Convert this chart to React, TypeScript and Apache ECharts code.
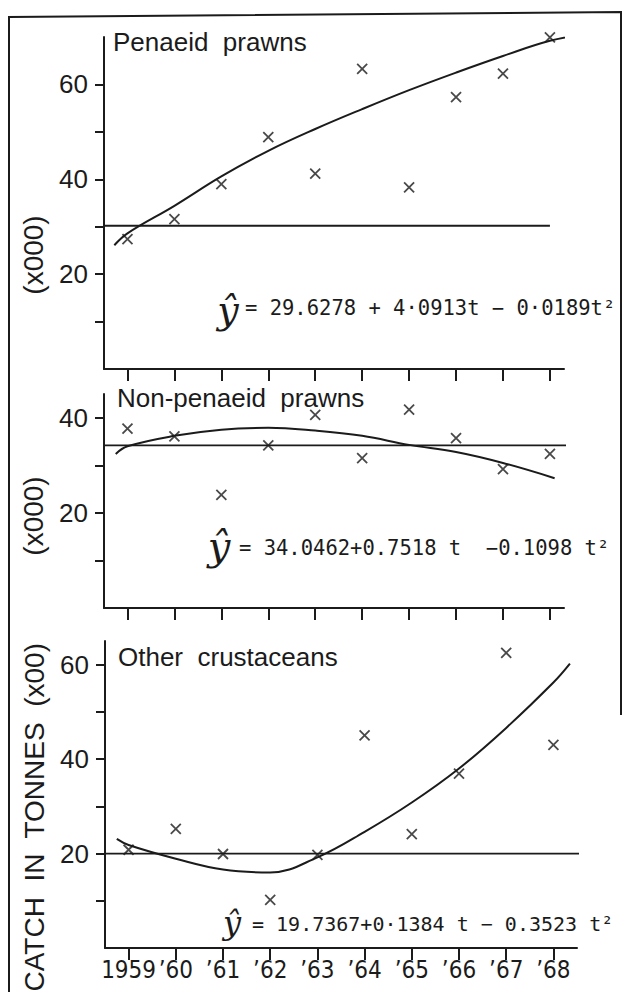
import React, { useEffect, useRef } from "react";
import * as echarts from "echarts";

// ---------- data ----------
const YEARS = [1959, 1960, 1961, 1962, 1963, 1964, 1965, 1966, 1967, 1968];
const YEAR_LABELS = ["1959", "’60", "’61", "’62", "’63", "’64", "’65", "’66", "’67", "’68"];

const PANEL_TITLES = ["Penaeid  prawns", "Non-penaeid  prawns", "Other  crustaceans"];
const AXIS_NAMES = ["(x000)", "(x000)", "CATCH  IN  TONNES  (x00)"];

const PENAEID = [27.4, 31.6, 39.0, 48.9, 41.2, 63.3, 38.3, 57.3, 62.3, 69.9];
const PENAEID_FIT_X = [1958.72, 1959, 1960, 1961, 1962, 1963, 1964, 1965, 1966, 1967, 1968, 1968.7];
const PENAEID_FIT_Y = [26.1, 28.6, 34.4, 40.6, 46.0, 50.6, 54.8, 58.8, 62.5, 66.0, 69.2, 70.5];
const PENAEID_MEAN = 30.2;
const PENAEID_MEAN_SPAN = [1958.5, 1968.0];

const NON_PENAEID = [37.7, 36.1, 23.8, 34.2, 40.6, 31.5, 41.7, 35.7, 29.2, 32.4];
const NON_PENAEID_FIT_X = [1958.75, 1959, 1960, 1961, 1962, 1963, 1964, 1965, 1966, 1967, 1968.1];
const NON_PENAEID_FIT_Y = [32.4, 34.0, 36.2, 37.5, 37.9, 37.3, 36.2, 34.3, 32.8, 30.5, 27.3];
const NON_PENAEID_MEAN = 34.2;
const NON_PENAEID_MEAN_SPAN = [1958.5, 1968.4];

const OTHER = [20.8, 25.2, 19.9, 10.2, 19.7, 45.0, 24.1, 36.9, 62.5, 43.0];
const OTHER_FIT_X = [1958.75, 1959, 1960, 1961, 1962, 1963, 1964, 1965, 1966, 1967, 1968, 1968.35];
const OTHER_FIT_Y = [23.1, 21.8, 18.9, 16.6, 16.0, 19.2, 24.6, 30.8, 38.0, 46.6, 56.2, 60.2];
const OTHER_MEAN = 20.0;
const OTHER_MEAN_SPAN = [1958.5, 1968.6];

const EQUATIONS = [
  "= 29.6278 + 4·0913t − 0·0189t²",
  "= 34.0462+0.7518 t  −0.1098 t²",
  "= 19.7367+0·1384 t − 0.3523 t²",
];

const Y_MAX = [70, 45, 65];
const Y_TICKS = [
  [10, 20, 30, 40, 50, 60],
  [10, 20, 30, 40],
  [10, 20, 30, 40, 50, 60],
];
const Y_LABELS = [
  [20, 40, 60],
  [20, 40],
  [20, 40, 60],
];

// ---------- styling / layout ----------
const INK = "#1b1b1b";
const FONT = '"Liberation Sans", Arial, sans-serif';
const NARROW = '"Liberation Sans Narrow", "DejaVu Sans Condensed", "Liberation Sans", sans-serif';
const MONO = '"DejaVu Sans Mono", "Liberation Mono", monospace';

const GRIDS = [
  { left: 104, top: 37, width: 460, height: 332, xMax: 1968.3 },
  { left: 104, top: 394, width: 460, height: 214, xMax: 1968.3 },
  { left: 105, top: 641, width: 472, height: 307, xMax: 1968.5 },
];

const TITLE_POS = [
  [113, 42],
  [117, 398],
  [118, 657],
];
const EQ_POS = [
  [245, 308, 20.5],
  [239, 548, 20.5],
  [252, 924, 20],
];
const YHAT_POS = [
  [228, 310, 38],
  [219, 546, 40],
  [232, 923, 32],
];

const zip = (xs: number[], ys: number[]) => xs.map((x, i) => [x, ys[i]]);

export default function App() {
  const ref = useRef<HTMLDivElement>(null);

  useEffect(() => {
    if (!ref.current) return;
    const chart = echarts.init(ref.current, null, { renderer: "svg" });

    const scatterData = [PENAEID, NON_PENAEID, OTHER];
    const fitData = [
      zip(PENAEID_FIT_X, PENAEID_FIT_Y),
      zip(NON_PENAEID_FIT_X, NON_PENAEID_FIT_Y),
      zip(OTHER_FIT_X, OTHER_FIT_Y),
    ];
    const means = [
      [PENAEID_MEAN, PENAEID_MEAN_SPAN],
      [NON_PENAEID_MEAN, NON_PENAEID_MEAN_SPAN],
      [OTHER_MEAN, OTHER_MEAN_SPAN],
    ] as [number, number[]][];

    const series: any[] = [];
    GRIDS.forEach((_, i) => {
      series.push({
        type: "line",
        xAxisIndex: i,
        yAxisIndex: i,
        data: fitData[i],
        smooth: 0.4,
        showSymbol: false,
        clip: false,
        lineStyle: { color: INK, width: 2 },
      });
      const [m, span] = means[i];
      series.push({
        type: "line",
        xAxisIndex: i,
        yAxisIndex: i,
        data: [
          [span[0], m],
          [span[1], m],
        ],
        showSymbol: false,
        clip: false,
        lineStyle: { color: INK, width: 1.8 },
      });
      series.push({
        type: "scatter",
        xAxisIndex: i,
        yAxisIndex: i,
        data: zip(YEARS, scatterData[i]),
        symbol: "path://M0,0L10,10M10,0L0,10",
        symbolSize: 10,
        clip: false,
        itemStyle: { color: INK, borderColor: INK, borderWidth: 1.8 },
      });
    });

    const graphics: any[] = [
      {
        type: "polyline",
        shape: {
          points: [
            [9, 992],
            [9, 17],
            [621, 12],
            [621, 715],
          ],
        },
        style: { stroke: INK, lineWidth: 2, fill: "none" },
      },
    ];
    PANEL_TITLES.forEach((t, i) => {
      graphics.push({
        type: "text",
        x: TITLE_POS[i][0],
        y: TITLE_POS[i][1],
        style: {
          text: t,
          fill: INK,
          font: `26px ${FONT}`,
          textAlign: "left",
          textVerticalAlign: "middle",
        },
      });
      graphics.push({
        type: "text",
        x: EQ_POS[i][0],
        y: EQ_POS[i][1],
        style: {
          text: EQUATIONS[i],
          fill: INK,
          font: `${EQ_POS[i][2]}px ${MONO}`,
          textAlign: "left",
          textVerticalAlign: "middle",
        },
      });
      graphics.push({
        type: "text",
        x: YHAT_POS[i][0],
        y: YHAT_POS[i][1],
        style: {
          text: "ŷ",
          fill: INK,
          font: `italic ${YHAT_POS[i][2]}px "DejaVu Serif", serif`,
          textAlign: "center",
          textVerticalAlign: "middle",
        },
      });
    });
    // rotated axis names
    graphics.push({
      type: "text",
      x: 33,
      y: 255,
      rotation: Math.PI / 2,
      style: { text: AXIS_NAMES[0], fill: INK, font: `28px ${FONT}`, textAlign: "center", textVerticalAlign: "middle" },
    });
    graphics.push({
      type: "text",
      x: 33,
      y: 516,
      rotation: Math.PI / 2,
      style: { text: AXIS_NAMES[1], fill: INK, font: `28px ${FONT}`, textAlign: "center", textVerticalAlign: "middle" },
    });
    graphics.push({
      type: "text",
      x: 34,
      y: 643,
      rotation: Math.PI / 2,
      style: { text: AXIS_NAMES[2], fill: INK, font: `28px ${FONT}`, textAlign: "right", textVerticalAlign: "middle" },
    });

    chart.setOption({
      animation: false,
      backgroundColor: "#ffffff",
      grid: GRIDS.map((g) => ({ left: g.left, top: g.top, width: g.width, height: g.height, containLabel: false })),
      xAxis: GRIDS.map((g, i) => ({
        gridIndex: i,
        type: "value",
        min: 1958.5,
        max: g.xMax,
        axisLine: { show: true, onZero: false, lineStyle: { color: INK, width: 2 } },
        axisTick: { show: true, customValues: YEARS, length: 12, lineStyle: { color: INK, width: 2 } },
        axisLabel: {
          show: i === 2,
          customValues: YEARS,
          showMinLabel: true,
          showMaxLabel: true,
          hideOverlap: false,
          margin: 10,
          color: INK,
          fontSize: 24,
          fontFamily: NARROW,
          formatter: (v: number) => YEAR_LABELS[YEARS.indexOf(Math.round(v))] ?? "",
        },
        splitLine: { show: false },
      })),
      yAxis: GRIDS.map((_, i) => ({
        gridIndex: i,
        type: "value",
        min: 0,
        max: Y_MAX[i],
        axisLine: { show: true, onZero: false, lineStyle: { color: INK, width: 2 } },
        axisTick: { show: true, customValues: Y_TICKS[i], length: 9, lineStyle: { color: INK, width: 2 } },
        axisLabel: {
          show: true,
          customValues: Y_LABELS[i],
          margin: 16,
          color: INK,
          fontSize: 26,
          fontFamily: FONT,
        },
        splitLine: { show: false },
      })),
      series,
      graphic: graphics,
    });

    return () => chart.dispose();
  }, []);

  return (
    <div
      ref={ref}
      style={{ position: "fixed", left: 0, top: 0, width: 623, height: 992, background: "#fff" }}
    />
  );
}
